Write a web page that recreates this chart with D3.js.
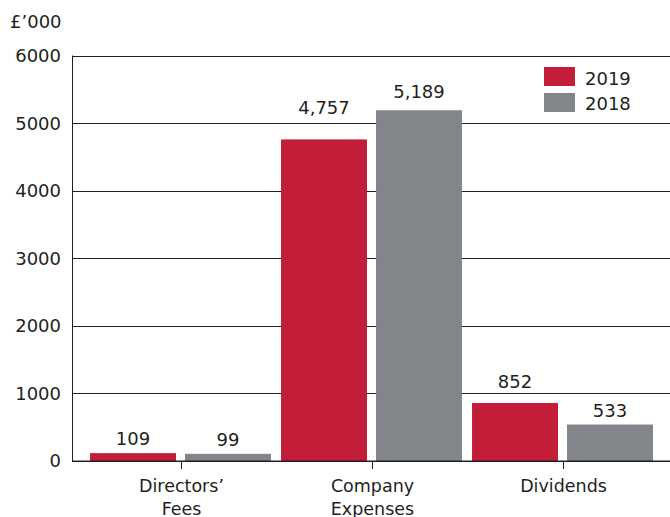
<!DOCTYPE html>
<html><head><meta charset="utf-8">
<script src="https://cdn.jsdelivr.net/npm/d3@7"></script>
<style>body{margin:0;background:#fff}svg{display:block}text{font-family:"DejaVu Sans",sans-serif;fill:#231f20}</style>
</head><body>
<script>
const categories = [["Directors’","Fees"],["Company","Expenses"],["Dividends"]];
const seriesNames = ["2019","2018"];
const values2019 = [109, 4757, 852];
const values2018 = [99, 5189, 533];
const valueLabels2019 = ["109","4,757","852"];
const valueLabels2018 = ["99","5,189","533"];
const yTicks = [0,1000,2000,3000,4000,5000,6000];
const colors = ["#c21e3a","#82868a"];
const labelLift2019 = [8, 25, 15];
const labelLift2018 = [8, 12, 8];

const W=670,H=517;
const svg=d3.select("body").append("svg").attr("width",W).attr("height",H);
const y=d3.scaleLinear().domain([0,6000]).range([460.5,55.5]);
const x0=d3.scaleBand().domain(d3.range(categories.length)).range([85,658]).padding(0);
const x1=d3.scaleBand().domain(seriesNames).range([0,x0.bandwidth()]).paddingInner(0.095).paddingOuter(0.053);

// gridlines
svg.append("g").selectAll("line").data(yTicks).join("line")
 .attr("x1",72).attr("x2",W).attr("y1",d=>Math.round(y(d))+0.5).attr("y2",d=>Math.round(y(d))+0.5)
 .attr("stroke","#231f20").attr("stroke-width",1);
// y axis line
svg.append("line").attr("x1",72.5).attr("x2",72.5).attr("y1",y(6000)).attr("y2",y(0)+0.5).attr("stroke","#231f20");
// y labels
svg.append("g").selectAll("text").data(yTicks).join("text")
 .attr("x",61).attr("y",d=>y(d)+6.5).attr("text-anchor","end").attr("font-size",18).text(d=>d);
svg.append("text").attr("x",10).attr("y",28).attr("font-size",18).text("£’000");

// bars
const series=[values2019,values2018];
const labs=[valueLabels2019,valueLabels2018];
const lifts=[labelLift2019,labelLift2018];
series.forEach((vals,si)=>{
  const g=svg.append("g");
  g.selectAll("rect").data(vals).join("rect")
   .attr("x",(d,i)=>x0(i)+x1(seriesNames[si])).attr("width",x1.bandwidth())
   .attr("y",d=>y(d)).attr("height",d=>y(0)+0.5-y(d)).attr("fill",colors[si]);
  g.selectAll("text").data(vals).join("text")
   .attr("x",(d,i)=>x0(i)+x1(seriesNames[si])+x1.bandwidth()/2)
   .attr("y",(d,i)=>y(d)-lifts[si][i]).attr("text-anchor","middle").attr("font-size",18)
   .text((d,i)=>labs[si][i]);
});

// x axis
svg.append("line").attr("x1",72).attr("x2",W).attr("y1",461).attr("y2",461).attr("stroke","#231f20");
const xt=svg.append("g").selectAll("g").data(categories).join("g")
 .attr("transform",(d,i)=>`translate(${Math.round(x0(i)+x0.bandwidth()/2)+0.5},0)`);
xt.append("line").attr("y1",461).attr("y2",469).attr("stroke","#231f20");
xt.each(function(d){
  const t=d3.select(this).append("text").attr("text-anchor","middle").attr("font-size",17.5);
  d.forEach((s,k)=>t.append("tspan").attr("x",0).attr("y",492+k*23).text(s));
});

// legend
const lg=svg.append("g");
seriesNames.forEach((s,i)=>{
  lg.append("rect").attr("x",544).attr("y",67+i*26).attr("width",31).attr("height",19).attr("fill",colors[i]);
  lg.append("text").attr("x",585).attr("y",84.5+i*25.5).attr("font-size",18).text(s);
});
</script>
</body></html>
